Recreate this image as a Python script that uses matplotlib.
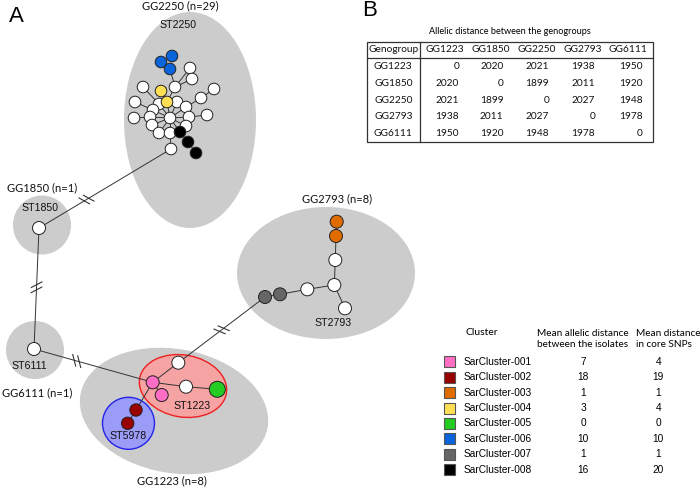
import numpy as np
import matplotlib
matplotlib.use("Agg")
import matplotlib.pyplot as plt
from matplotlib.patches import Ellipse, Circle, Rectangle

# ---- data ----
genogroups = ["GG1223", "GG1850", "GG2250", "GG2793", "GG6111"]
dist_matrix = [
    [0, 2020, 2021, 1938, 1950],
    [2020, 0, 1899, 2011, 1920],
    [2021, 1899, 0, 2027, 1948],
    [1938, 2011, 2027, 0, 1978],
    [1950, 1920, 1948, 1978, 0],
]
cluster_names = ["SarCluster-001", "SarCluster-002", "SarCluster-003", "SarCluster-004",
                 "SarCluster-005", "SarCluster-006", "SarCluster-007", "SarCluster-008"]
allelic_dist = [7, 18, 1, 3, 0, 10, 1, 16]
snp_dist = [4, 19, 1, 4, 0, 10, 1, 20]
cluster_colors = ["#ff6ec4", "#990000", "#e06c00", "#ffe055",
                  "#22cc22", "#0a64dc", "#666666", "#000000"]
gg_counts = {"GG2250": 29, "GG1850": 1, "GG6111": 1, "GG2793": 8, "GG1223": 8}

# ---- network layout (pixel space) ----
# nodes: x, y, radius, colour index (-1 = white)
nodes = {
    # GG2250
    "h": (170, 118, 5.8, -1), "a1": (190, 68, 5.8, -1), "a2": (192, 79, 5.8, -1),
    "a3": (175, 87, 5.8, -1), "a4": (143, 87, 5.8, -1), "a5": (214, 89, 5.8, -1),
    "a6": (201, 98, 5.8, -1), "a7": (135, 102, 5.8, -1), "a8": (159, 104, 5.8, -1),
    "a9": (177, 102, 5.8, -1), "a10": (153, 110, 5.8, -1), "a11": (186, 107, 5.8, -1),
    "a12": (150, 117, 5.8, -1), "a13": (134, 118, 5.8, -1), "a14": (189, 117, 5.8, -1),
    "a15": (207, 115, 5.8, -1), "a16": (152, 125, 5.8, -1), "a17": (186, 126, 5.8, -1),
    "a18": (159, 133, 5.8, -1), "a19": (170, 133, 5.8, -1), "a20": (171, 149, 5.8, -1),
    "b1": (161, 62, 5.8, 5), "b2": (172, 56, 5.8, 5), "b3": (170, 69, 5.8, 5),
    "y1": (161, 91, 5.8, 3), "y2": (167, 102, 5.8, 3),
    "k1": (180, 132, 5.8, 7), "k2": (188, 142, 5.8, 7), "k3": (196, 153, 5.8, 7),
    # GG1850 / GG6111
    "s1850": (39, 228, 6.5, -1), "s6111": (34, 349, 6.5, -1),
    # GG1223
    "p1": (152.7, 382.3, 6.5, 0), "p2": (161.7, 395, 6.5, 0),
    "w1": (178.3, 362.7, 6.5, -1), "w2": (186, 386.7, 6.5, -1),
    "g1": (217.3, 389.3, 8, 4), "r1": (136, 410, 6.2, 1), "r2": (127.7, 423.3, 6.2, 1),
    # GG2793
    "o1": (336.7, 221.7, 6.5, 2), "o2": (336, 236, 6.5, 2),
    "c1": (335.3, 260, 6.5, -1), "c2": (334.3, 285, 6.5, -1),
    "c3": (307.3, 289.3, 6.5, -1), "c4": (345, 308.3, 6.5, -1),
    "d1": (280, 294.3, 6.5, 6), "d2": (265, 297, 6.5, 6),
}
edges = [("h", n) for n in ["a8", "a9", "a10", "a11", "a12", "a14", "a16", "a17",
                            "a18", "a19", "y2", "k1"]]
edges += [("y2", "a3"), ("a3", "a1"), ("a3", "a2"), ("a3", "b3"), ("a4", "a8"),
          ("a7", "a10"), ("a13", "a12"), ("a5", "a6"), ("a6", "a11"), ("a15", "a14"),
          ("a19", "a20"), ("k1", "k2"), ("k2", "k3"), ("y1", "y2"),
          ("p1", "w1"), ("p1", "w2"), ("w2", "g1"), ("p1", "r1"), ("r1", "r2"), ("p1", "p2"),
          ("o1", "o2"), ("o2", "c1"), ("c1", "c2"), ("c2", "c3"), ("c2", "c4"),
          ("c3", "d1"), ("d1", "d2")]
# long links with break marks: (from, to, position of break along the link)
broken_edges = [("a20", "s1850", 0.64), ("s1850", "s6111", 0.49),
                ("s6111", "p1", 0.36), ("w1", "d2", 0.5)]

fig = plt.figure(figsize=(7, 4.88), dpi=100)
ax = fig.add_axes([0, 0, 1, 1])
ax.set_xlim(0, 700)
ax.set_ylim(488, 0)
ax.axis("off")

grey = "#cccccc"
# group ellipses
for (cx, cy, w, h, ang) in [(190, 120, 132, 216, 0), (42, 225, 58, 59, 0),
                            (35, 350, 58, 58, 0), (326, 273, 178, 132, 0),
                            (174, 411, 190, 124, 10)]:
    ax.add_patch(Ellipse((cx, cy), w, h, angle=ang, facecolor=grey, edgecolor="none", zorder=1))
ax.add_patch(Ellipse((183, 386), 88, 62, angle=10, facecolor="#f5a3a3",
                     edgecolor="#ee2020", lw=1.0, zorder=2))
ax.add_patch(Ellipse((128.5, 423.3), 52, 52, facecolor="#9a9cf8",
                     edgecolor="#2424e8", lw=1.0, zorder=2))

lc = "#333333"
for a, b in edges:
    x1, y1 = nodes[a][:2]
    x2, y2 = nodes[b][:2]
    ax.plot([x1, x2], [y1, y2], color=lc, lw=0.7, zorder=3)
for a, b, t in broken_edges:
    x1, y1 = nodes[a][:2]
    x2, y2 = nodes[b][:2]
    ax.plot([x1, x2], [y1, y2], color=lc, lw=0.7, zorder=3)
    d = np.array([x2 - x1, y2 - y1], float)
    d /= np.hypot(*d)
    mx, my = x1 + t * (x2 - x1), y1 + t * (y2 - y1)
    th = np.arctan2(d[1], d[0]) + np.radians(90 - 30)
    m = np.array([np.cos(th), np.sin(th)])
    for off in (-2.6, 2.6):
        px, py = mx + off * d[0], my + off * d[1]
        ax.plot([px - 6 * m[0], px + 6 * m[0]], [py - 6 * m[1], py + 6 * m[1]],
                color=lc, lw=0.8, zorder=3)

for name, (x, y, r, ci) in nodes.items():
    fc = "white" if ci < 0 else cluster_colors[ci]
    ax.add_patch(Circle((x, y), r, facecolor=fc, edgecolor="#222222", lw=0.7, zorder=4))

lab = dict(family="Lato", fontsize=8, ha="center", va="center", color="#111111")
arial = dict(family="Liberation Sans", fontsize=7.6, ha="center", va="center", color="#111111")
ax.text(180, 6, f"GG2250 (n={gg_counts['GG2250']})", **lab)
ax.text(178, 25, "ST2250", **arial)
ax.text(42, 188, f"GG1850 (n={gg_counts['GG1850']})", **lab)
ax.text(40, 208, "ST1850", **arial)
ax.text(29, 366, "ST6111", **arial)
ax.text(37, 393, f"GG6111 (n={gg_counts['GG6111']})", **lab)
ax.text(337, 199, f"GG2793 (n={gg_counts['GG2793']})", **lab)
ax.text(333, 323, "ST2793", **arial)
ax.text(192, 406, "ST1223", **arial)
ax.text(128, 436, "ST5978", **arial)
ax.text(172, 481, f"GG1223 (n={gg_counts['GG1223']})", **lab)

ax.text(16, 16, "A", family="Liberation Sans", fontsize=16, ha="center", va="center")
ax.text(370, 11, "B", family="Liberation Sans", fontsize=16, ha="center", va="center")

# ---- table B ----
tl, tr, tt = 366.7, 652.7, 41.7
hdr_h, row_h = 16.6, 16.7
tb = tt + hdr_h + row_h * len(genogroups)
ax.text(510, 31.5, "Allelic distance between the genogroups", family="Lato", fontsize=6.6,
        ha="center", va="center")
ax.add_patch(Rectangle((tl, tt), tr - tl, tb - tt, fill=False, edgecolor="#333333", lw=0.9))
ax.plot([tl, tr], [tt + hdr_h, tt + hdr_h], color="#333333", lw=0.9)
ax.plot([420, 420], [tt, tb], color="#333333", lw=0.9)
col_c = [445, 490.7, 536.7, 582.7, 628.3]
col_r = [459, 503.3, 549, 595, 642.7]
tfont = dict(family="Lato", fontsize=7.3, va="center", color="#111111")
ax.text(393.3, tt + hdr_h / 2, "Genogroup", ha="center", **tfont)
for j, g in enumerate(genogroups):
    ax.text(col_c[j], tt + hdr_h / 2, g, ha="center", **tfont)
for i, g in enumerate(genogroups):
    yy = tt + hdr_h + row_h * (i + 0.5)
    ax.text(393.3, yy, g, ha="center", **tfont)
    for j, v in enumerate(dist_matrix[i]):
        ax.text(col_r[j], yy, str(v), ha="right", **tfont)

# ---- cluster legend ----
ax.text(481.7, 332.7, "Cluster", family="Lato", fontsize=7.5, ha="center", va="center")
ax.text(582.5, 339, "Mean allelic distance\nbetween the isolates", family="Lato",
        fontsize=7.2, ha="center", va="center", linespacing=1.3)
ax.text(636.5, 339, "Mean distance\nin core SNPs", family="Lato",
        fontsize=7.2, ha="left", va="center", linespacing=1.3)
for i, nm in enumerate(cluster_names):
    yy = 361.7 + i * 15.45
    ax.add_patch(Rectangle((443.5, yy - 5.5), 11.5, 11, facecolor=cluster_colors[i],
                           edgecolor="#555555", lw=0.8))
    ax.text(463.3, yy, nm, family="Liberation Sans", fontsize=7.3, ha="left", va="center")
    ax.text(583.3, yy, str(allelic_dist[i]), family="Liberation Sans", fontsize=7.3,
            ha="center", va="center")
    ax.text(658.3, yy, str(snp_dist[i]), family="Liberation Sans", fontsize=7.3,
            ha="center", va="center")

fig.savefig("out.png", dpi=100)
